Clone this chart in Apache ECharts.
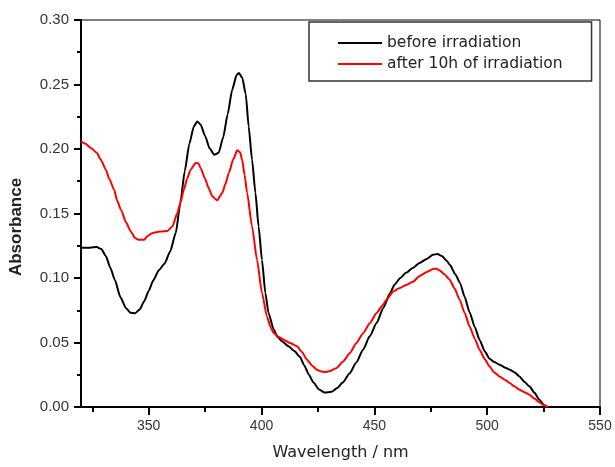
<!DOCTYPE html>
<html>
<head>
<meta charset="utf-8">
<script src="https://cdn.jsdelivr.net/npm/echarts@6/dist/echarts.min.js"></script>
<style>
html,body{margin:0;padding:0;background:#fff;}
#chart{width:615px;height:467px;}
</style>
</head>
<body>
<div id="chart"></div>
<script>
// Series names
const seriesNames = ['before irradiation', 'after 10h of irradiation'];

// before irradiation: wavelength (nm) and absorbance
const beforeWl = [320,324,327,329,331,333,335,337.5,340,342,344,346,348,350,352,354.5,357,359.5,362,364,366,368,370,371.5,373,375,377,379,381,383,385,387,389,390,391.5,393,394.3,395.8,397.3,398.7,400.2,401.7,403.1,405.4,407,409,412,414.5,417,419,421,423,425.5,428,431,433.5,436,439,442,445,448,451,454,457,459,461.5,464,467,470,473,476,478,480,482,483.5,486,488,490,492.2,494.5,496.6,499,501,503,505.5,508,510,512,514.3,516.5,518.7,521,523.1,525.3,526];
const beforeAbs = [0.1235,0.1235,0.124,0.1225,0.117,0.108,0.0985,0.085,0.0765,0.073,0.0727,0.0755,0.082,0.090,0.098,0.106,0.111,0.1205,0.135,0.158,0.183,0.204,0.2175,0.2214,0.219,0.210,0.2005,0.1956,0.197,0.209,0.227,0.246,0.2575,0.259,0.255,0.2425,0.2175,0.1917,0.166,0.140,0.114,0.0884,0.0729,0.060,0.0545,0.051,0.047,0.0435,0.039,0.032,0.025,0.019,0.0135,0.0112,0.0118,0.0147,0.019,0.026,0.0345,0.0444,0.055,0.0651,0.077,0.0884,0.095,0.100,0.104,0.1078,0.1116,0.1145,0.118,0.1186,0.117,0.1135,0.110,0.1025,0.096,0.0855,0.0735,0.062,0.0522,0.043,0.0375,0.035,0.0328,0.0305,0.0289,0.027,0.0237,0.0195,0.016,0.011,0.0057,0.0012,0.0];

// after 10h of irradiation
const afterWl = [320,322,324.4,327,328.8,331,332.5,334.7,336,337.7,340,342,344,345.5,348,349.5,351.7,355,358.3,360.5,362.7,364,365.6,367,368.6,370.8,372,373,375,376.5,378.2,380.3,382.6,384,385.5,387.5,389.2,390.5,391.4,392.5,393.6,395.8,398,400.2,402.4,404,405.4,407.5,409.8,412.7,415.7,418,420.1,422.5,424.5,426.5,428.2,430.5,433.3,436,439.2,442,445.1,448,451,453.5,455.4,458.4,461,464.3,467,470.1,473,476,477.5,479,481,483.4,485.5,487.8,490,492.2,494.5,496.6,499,501,503,505.5,508,510,512,514.3,516.5,518.7,521,523.1,525,527];
const afterAbs = [0.206,0.204,0.2008,0.197,0.1917,0.184,0.177,0.1684,0.160,0.153,0.143,0.1361,0.131,0.1297,0.1297,0.1325,0.1349,0.136,0.1365,0.140,0.1504,0.158,0.1684,0.177,0.184,0.1891,0.189,0.1853,0.177,0.170,0.1633,0.1602,0.1659,0.173,0.1814,0.192,0.199,0.1975,0.1917,0.180,0.166,0.140,0.114,0.0884,0.0702,0.062,0.0574,0.0545,0.0522,0.0496,0.047,0.0425,0.0367,0.032,0.0289,0.0275,0.0271,0.028,0.0302,0.035,0.0419,0.0495,0.0574,0.065,0.0729,0.0785,0.0832,0.0896,0.092,0.0948,0.097,0.1015,0.1045,0.107,0.1072,0.1059,0.103,0.0987,0.092,0.0832,0.073,0.0625,0.053,0.0444,0.037,0.0315,0.027,0.0237,0.021,0.0186,0.016,0.0134,0.0115,0.0095,0.0065,0.0036,0.0015,0.0];

// Axis ticks
const xMajorTicks = [350,400,450,500,550];
const xMinorTicks = [325,375,425,475,525];
const yTicks = [0,0.05,0.10,0.15,0.20,0.25,0.30];

const pairs = (xs, ys) => xs.map((x, i) => [x, ys[i]]);

const chart = echarts.init(document.getElementById('chart'), null, {renderer: 'canvas'});
const labelColor = '#333340';
chart.setOption({
  backgroundColor: '#fff',
  animation: false,
  grid: {left: 80, right: 15, top: 20, bottom: 60, show: true, borderColor: '#000', borderWidth: 1, backgroundColor: 'transparent'},
  legend: {
    orient: 'vertical', left: 309, top: 22,
    padding: [13, 29, 9, 29], itemGap: 5,
    borderColor: '#333', borderWidth: 1.5,
    icon: 'rect', itemWidth: 44, itemHeight: 2,
    textStyle: {fontFamily: 'DejaVu Sans', fontSize: 15.5, color: '#222'},
    data: seriesNames
  },
  xAxis: [{
    type: 'value', min: 320, max: 550,
    name: 'Wavelength / nm', nameLocation: 'middle', nameGap: 38,
    nameTextStyle: {fontFamily: 'DejaVu Sans', fontSize: 16, color: '#222'},
    axisLine: {show: true, lineStyle: {color: '#000', width: 2}},
    axisTick: {show: true, length: 8, lineStyle: {color: '#000', width: 2}, customValues: xMajorTicks},
    axisLabel: {show: true, margin: 12, fontFamily: 'Liberation Sans', fontSize: 14, color: labelColor, customValues: xMajorTicks},
    splitLine: {show: false}
  }, {
    type: 'value', min: 320, max: 550, position: 'bottom', offset: 0,
    axisLine: {show: false},
    axisTick: {show: true, length: 5, lineStyle: {color: '#000', width: 2}, customValues: xMinorTicks},
    axisLabel: {show: false},
    splitLine: {show: false}
  }],
  yAxis: {
    type: 'value', min: 0, max: 0.3, interval: 0.05,
    name: 'Absorbance', nameLocation: 'middle', nameGap: 56,
    nameTextStyle: {fontFamily: 'Liberation Sans', fontWeight: 'bold', fontSize: 17, color: '#222', padding: [0, 27, 0, 0]},
    axisLine: {show: true, lineStyle: {color: '#000', width: 2}},
    axisTick: {show: true, length: 7, lineStyle: {color: '#000', width: 2}},
    minorTick: {show: true, splitNumber: 2, length: 4, lineStyle: {color: '#000', width: 2}},
    axisLabel: {margin: 12, fontFamily: 'Liberation Sans', fontSize: 15, color: labelColor,
      customValues: yTicks, formatter: v => v.toFixed(2)},
    splitLine: {show: false}
  },
  series: [{
    name: seriesNames[0], type: 'line', data: pairs(beforeWl, beforeAbs),
    showSymbol: false, symbol: 'none', smooth: 0.2, smoothMonotone: 'x',
    lineStyle: {color: '#000', width: 2}, itemStyle: {color: '#000'}, z: 3
  }, {
    name: seriesNames[1], type: 'line', data: pairs(afterWl, afterAbs),
    showSymbol: false, symbol: 'none', smooth: 0.2, smoothMonotone: 'x',
    lineStyle: {color: '#ff0000', width: 2}, itemStyle: {color: '#ff0000'}, z: 4
  }]
});
</script>
</body>
</html>
